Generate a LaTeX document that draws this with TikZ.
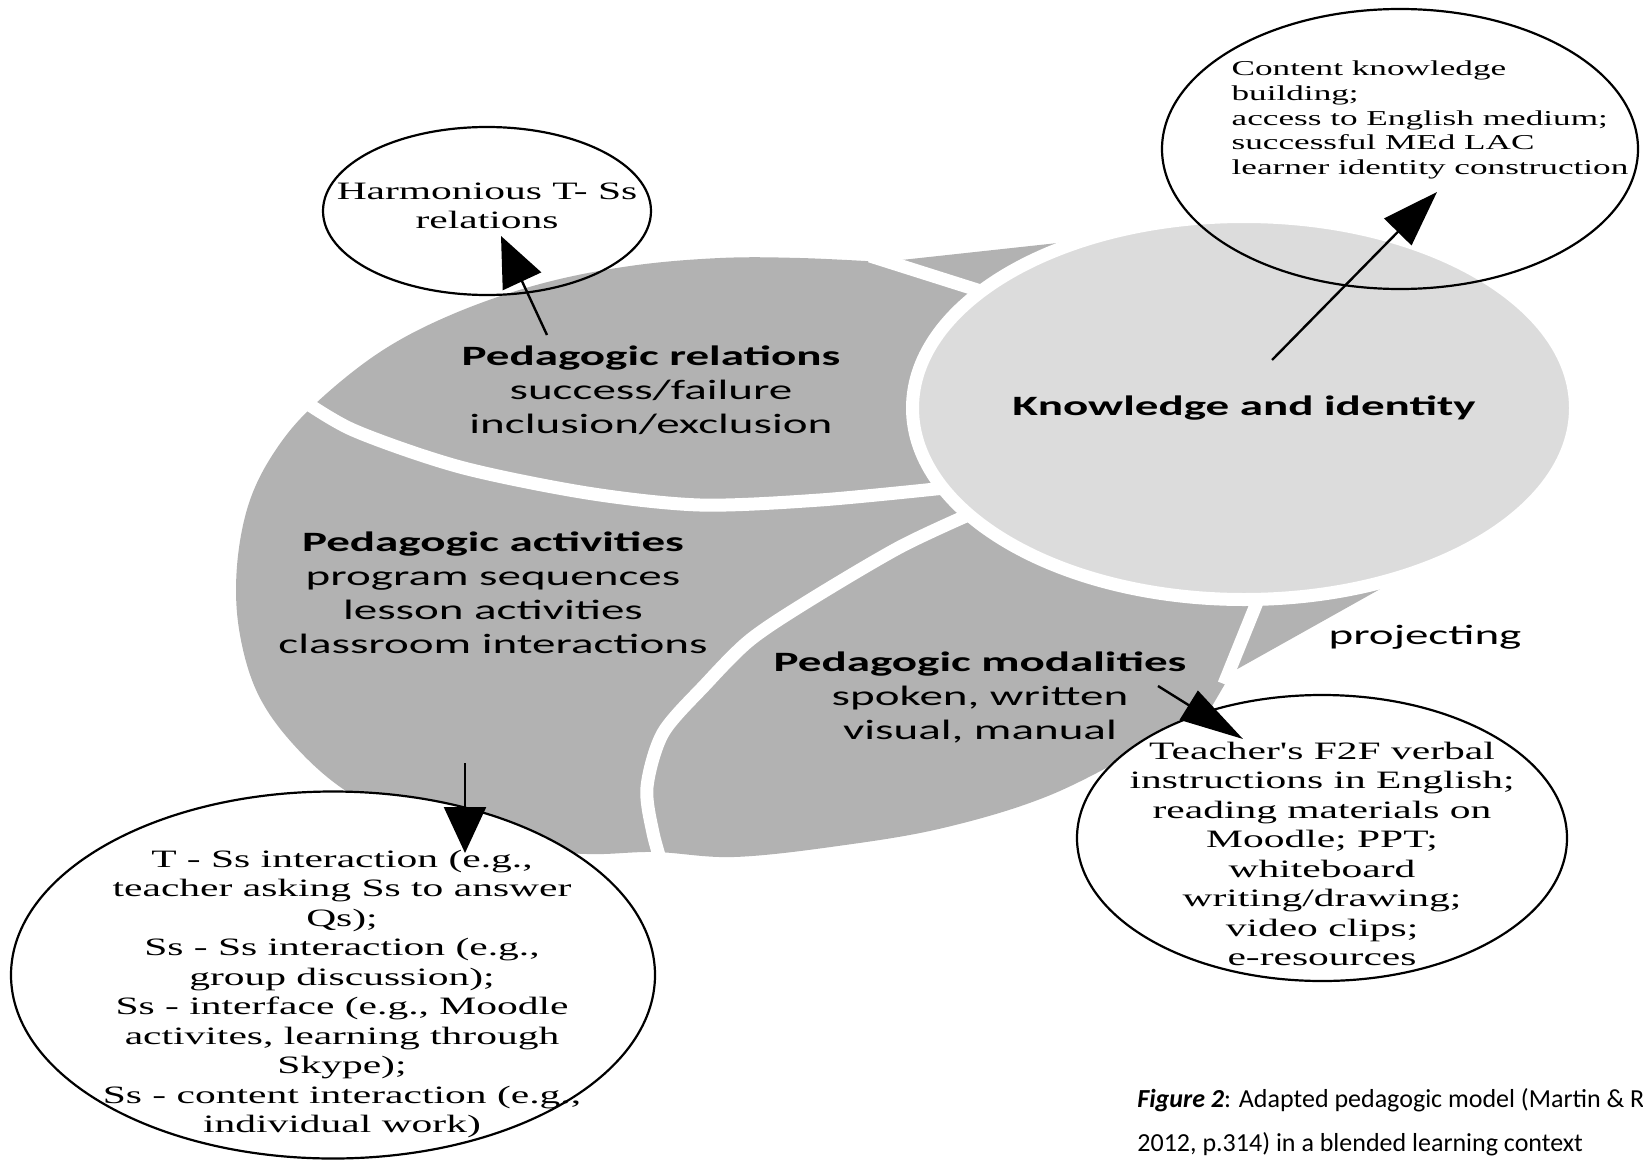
\documentclass[tikz,border=0pt]{standalone}
\usepackage{fontspec}
\setmainfont{Liberation Serif}
\newfontfamily\notefont[FakeStretch=1.66]{Liberation Serif}
\newfontfamily\diagfont[FakeStretch=1.68]{Carlito}
\newfontfamily\capfont{Carlito}
\usetikzlibrary{shapes.geometric, arrows.meta}
\definecolor{regiongray}{RGB}{178,178,178}
\definecolor{knowgray}{RGB}{220,220,220}
\tikzset{
  bubble/.style={ellipse, draw=black, line width=1.1pt, inner sep=0pt},
  notetext/.style={font=\notefont\fontsize{12.5}{14.75}\selectfont, align=center, inner sep=0pt},
  smallnote/.style={font=\notefont\fontsize{10.6}{12.4}\selectfont, align=left, inner sep=0pt},
  regionlabel/.style={font=\diagfont\fontsize{14}{17}\selectfont, align=center, inner sep=0pt},
  separator/.style={white, line width=6.5pt},
  pointer/.style={line width=1.2pt}
}
\begin{document}
\begin{tikzpicture}[x=0.5pt, y=-0.5pt]
\useasboundingbox (0,0) rectangle (1643,1172);
% grey body of the model, with the two projecting wedges
\fill[regiongray] (1067,242) -- (1250,420) -- (1382,588) -- (1232,672)
  -- plot[smooth, tension=0.6] coordinates {(1205,718) (1150,745) (1048,796) (943,828) (838,846) (734,857) (655,852) (587,854) (503,847) (419,828) (346,791) (293,744) (257,692) (239,629) (237,566) (249,503) (275,451) (314,405) (380,352) (453,314) (540,284) (630,266) (720,258) (800,258) (883,262)}
  -- cycle;
% white gaps between the regions
\draw[separator] plot[smooth] coordinates {(295,395) (353,430) (460,467) (587,493) (700,505) (820,500) (945,488)};
\draw[separator] plot[smooth] coordinates {(975,512) (900,547) (810,600) (750,640) (705,685) (663,733) (647,787) (653,833) (665,875)};
\draw[separator] (870,256) -- (990,294);
\draw[separator] (1264,585) -- (1224,684);
\node[ellipse, fill=knowgray, draw=white, line width=6.5pt, minimum width=331.5pt, minimum height=191.5pt, regionlabel] (knowledge) at (1244,408) {\bfseries Knowledge and identity};

\node[regionlabel] (relations) at (651,390) {\bfseries Pedagogic relations\\success/failure\\inclusion/exclusion};
\node[regionlabel] (activities) at (493,593) {\bfseries Pedagogic activities\\program sequences\\lesson activities\\classroom interactions};
\node[regionlabel] (modalities) at (980,697) {\bfseries Pedagogic modalities\\spoken, written\\visual, manual};
\node[regionlabel] (projecting) at (1425,637) {projecting};

% callouts
\node[bubble, minimum width=164pt, minimum height=84pt] (harmbubble) at (487,211) {};
\node[notetext] (harmtext) at (487,206) {Harmonious T- Ss\\relations};
\node[bubble, minimum width=238pt, minimum height=140pt] (ckbubble) at (1400,149) {};
\node[smallnote] (cktext) at (1430,120) {Content knowledge\\building;\\access to English medium;\\successful MEd LAC\\learner identity construction};
\node[bubble, fill=white, minimum width=245pt, minimum height=143pt] (f2fbubble) at (1322,838) {};
\node[notetext] (f2ftext) at (1322,854) {Teacher's F2F verbal\\instructions in English;\\reading materials on\\Moodle; PPT;\\whiteboard\\writing/drawing;\\video clips;\\e-resources};
\node[bubble, fill=white, minimum width=322pt, minimum height=183.5pt] (tsbubble) at (333,975) {};
\node[notetext] (tstext) at (342,994) {T - Ss interaction (e.g.,\\teacher asking Ss to answer\\Qs);\\Ss - Ss interaction (e.g.,\\group discussion);\\Ss - interface (e.g., Moodle\\activites, learning through\\Skype);\\Ss - content interaction (e.g.,\\individual work)};

% arrows
\coordinate (relfrom) at (547,335);
\coordinate (relto) at (501,236);
\coordinate (knowfrom) at (1272,360);
\coordinate (knowto) at (1437,192);
\coordinate (actfrom) at (465,763);
\coordinate (actto) at (465,853);
\coordinate (modfrom) at (1158,686);
\coordinate (modto) at (1243,739);
\draw[pointer, -{Triangle[length=25pt, width=21pt]}] (relfrom) -- (relto);
\draw[pointer, -{Triangle[length=28pt, width=19pt]}] (knowfrom) -- (knowto);
\draw[pointer, -{Triangle[length=23pt, width=21pt]}] (actfrom) -- (actto);
\draw[pointer, -{Triangle[length=32pt, width=17pt]}] (modfrom) -- (modto);

\node[font=\capfont\fontsize{13}{22}\selectfont, align=left, anchor=west, inner sep=0pt] (caption) at (1137,1122) {\textbf{\textit{Figure 2}}: Adapted pedagogic model (Martin \& R\\2012, p.314) in a blended learning context};
\end{tikzpicture}
\end{document}
